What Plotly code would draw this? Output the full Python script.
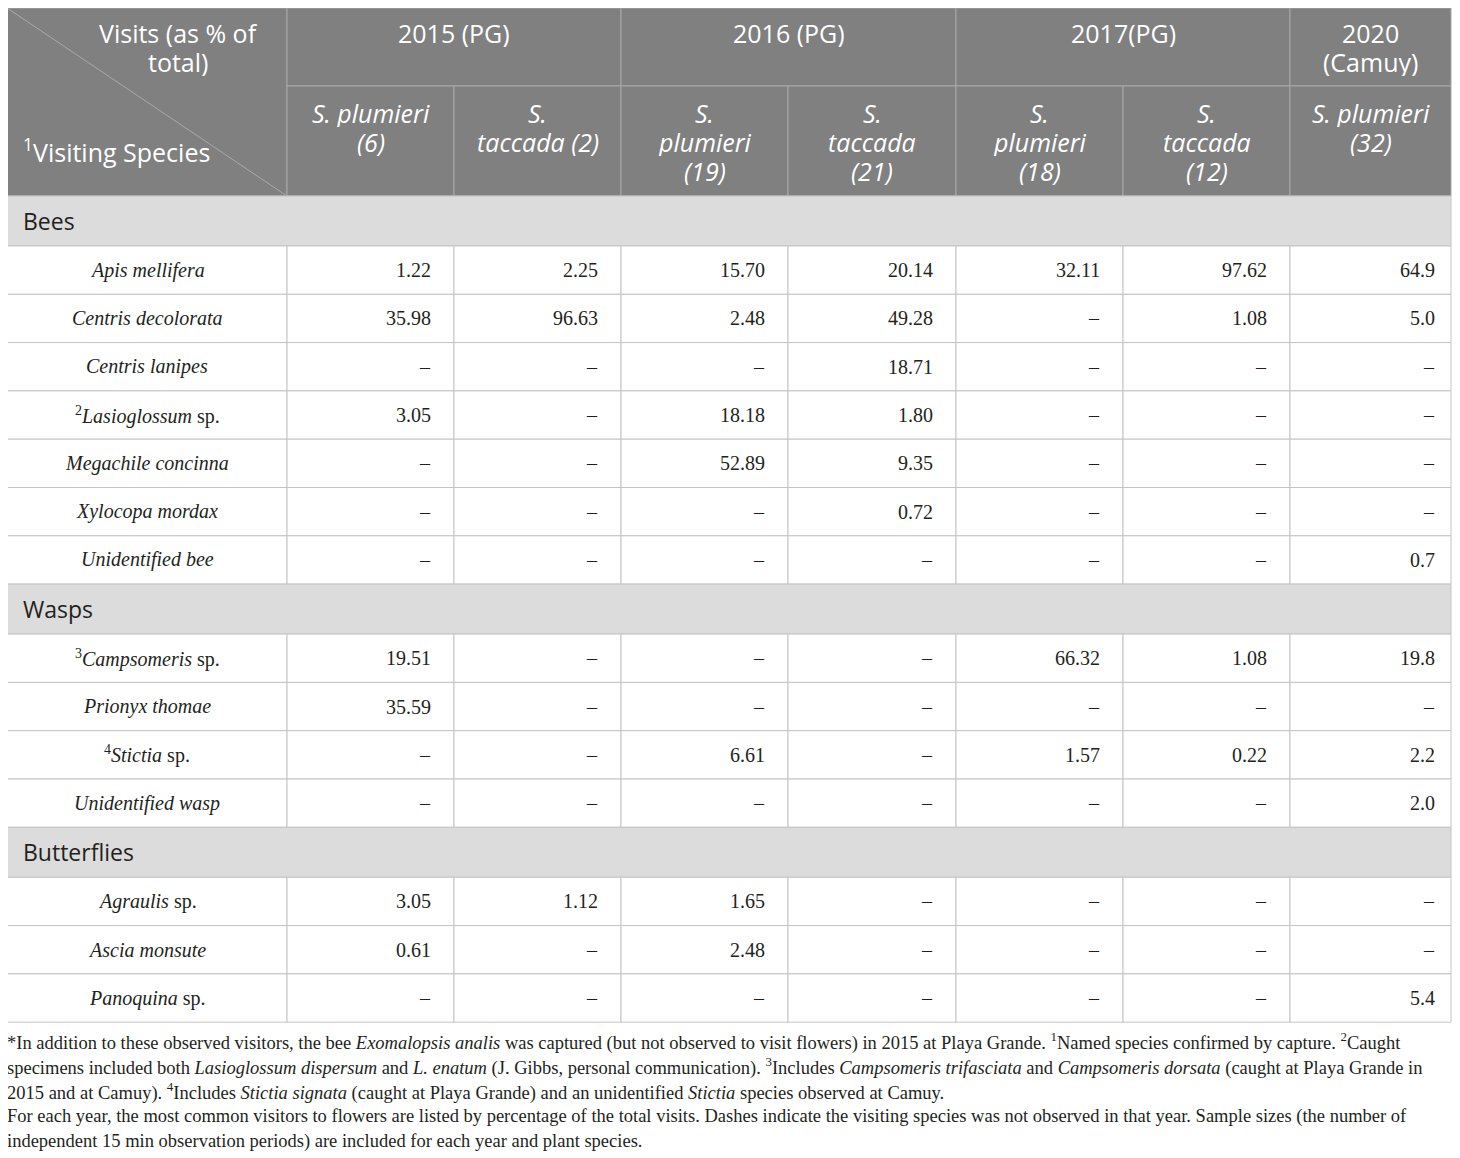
import plotly.graph_objects as go


# ---- table contents ----
groups = ["Bees", "Wasps", "Butterflies"]
group_sizes = [7, 4, 3]

species = ["Apis mellifera", "Centris decolorata", "Centris lanipes", "Lasioglossum", "Megachile concinna",
           "Xylocopa mordax", "Unidentified bee", "Campsomeris", "Prionyx thomae", "Stictia",
           "Unidentified wasp", "Agraulis", "Ascia monsute", "Panoquina"]
species_note = ["", "", "", "2", "", "", "", "3", "", "4", "", "", "", ""]
species_sp = [False, False, False, True, False, False, False, True, False, True, False, True, False, True]

years = ["2015 (PG)", "2016 (PG)", "2017(PG)", "2020<br>(Camuy)"]
year_span = [2, 2, 2, 1]
plant_heads = ["S. plumieri<br>(6)", "S.<br>taccada (2)", "S.<br>plumieri<br>(19)", "S.<br>taccada<br>(21)",
               "S.<br>plumieri<br>(18)", "S.<br>taccada<br>(12)", "S. plumieri<br>(32)"]

y2015_plumieri = [1.22, 35.98, None, 3.05, None, None, None, 19.51, 35.59, None, None, 3.05, 0.61, None]
y2015_taccada = [2.25, 96.63, None, None, None, None, None, None, None, None, None, 1.12, None, None]
y2016_plumieri = [15.70, 2.48, None, 18.18, 52.89, None, None, None, None, 6.61, None, 1.65, 2.48, None]
y2016_taccada = [20.14, 49.28, 18.71, 1.80, 9.35, 0.72, None, None, None, None, None, None, None, None]
y2017_plumieri = [32.11, None, None, None, None, None, None, 66.32, None, 1.57, None, None, None, None]
y2017_taccada = [97.62, 1.08, None, None, None, None, None, 1.08, None, 0.22, None, None, None, None]
y2020_plumieri = [64.9, 5.0, None, None, None, None, 0.7, 19.8, None, 2.2, 2.0, None, None, 5.4]
value_cols = [y2015_plumieri, y2015_taccada, y2016_plumieri, y2016_taccada,
              y2017_plumieri, y2017_taccada, y2020_plumieri]
decimals = [2, 2, 2, 2, 2, 2, 1]

footnote_lines = [
    "*In addition to these observed visitors, the bee <i>Exomalopsis analis</i> was captured (but not observed to visit flowers) in 2015 at Playa Grande. <sup>1</sup>Named species confirmed by capture. <sup>2</sup>Caught",
    "specimens included both <i>Lasioglossum dispersum</i> and <i>L. enatum</i> (J. Gibbs, personal communication). <sup>3</sup>Includes <i>Campsomeris trifasciata</i> and <i>Campsomeris dorsata</i> (caught at Playa Grande in",
    "2015 and at Camuy). <sup>4</sup>Includes <i>Stictia signata</i> (caught at Playa Grande) and an unidentified <i>Stictia</i> species observed at Camuy.",
    "For each year, the most common visitors to flowers are listed by percentage of the total visits. Dashes indicate the visiting species was not observed in that year. Sample sizes (the number of",
    "independent 15 min observation periods) are included for each year and plant species.",
]

# ---- look ----
W, H = 1460, 1158
PAGE = 8  # body margin of the html page
X0, Y0 = 7, 8
col_widths = [280, 167, 167, 167, 168, 167, 167, 161]
val_pad = [21, 21, 21, 21, 21, 21, 14]
head1_h, head2_h = 78, 110
group_h, row_h = 50, 48.3
head_line = 29
foot_gap, foot_line = 19, 25

HEAD_BG = "#808080"
GROUP_BG = "#dcdcdc"
GRID = "#c4c4c4"
HEAD_GRID = "#a8a8a8"
INK = "#231f20"
SANS = "Open Sans"
SERIF = "Liberation Serif"

col_x = [X0]
for w in col_widths:
    col_x.append(col_x[-1] + w)
x_right = col_x[-1]

shapes = []
notes = []


def rect(x0, y0, x1, y1, fill, line):
    shapes.append(dict(type="rect", xref="x", yref="y", x0=x0, y0=y0, x1=x1, y1=y1,
                       fillcolor=fill, line=dict(color=line, width=1), layer="below"))


def text(x, y, s, size, color=INK, family=SERIF, xanchor="center", yanchor="middle", align="center", **extra):
    notes.append(dict(x=x, y=y, xref="x", yref="y", text=s, showarrow=False,
                      xanchor=xanchor, yanchor=yanchor, align=align,
                      font=dict(size=size, color=color, family=family), **extra))


def lines(x, y, s, size, italic=False, **kw):
    for j, part in enumerate(s.split("<br>")):
        if italic:
            part = "<i>" + part + "</i>"
        text(x, y + j * head_line, part, size, "white", SANS, height=head_line - 1, **kw)


# header
h1 = Y0 + head1_h
h2 = h1 + head2_h
rect(col_x[0], Y0, col_x[1], h2, HEAD_BG, HEAD_GRID)
shapes.append(dict(type="line", xref="x", yref="y", x0=col_x[0], y0=Y0, x1=col_x[1], y1=h2,
                   line=dict(color=HEAD_GRID, width=1)))
lines(178, Y0 + 25, "Visits (as % of<br>total)", 25)
text(col_x[0] + 14, 150, "<sup>1</sup>Visiting Species", 25, "white", SANS, xanchor="left")

ci = 1
for yr, span in zip(years, year_span):
    rect(col_x[ci], Y0, col_x[ci + span], h1, HEAD_BG, HEAD_GRID)
    lines((col_x[ci] + col_x[ci + span]) / 2, Y0 + 25, yr, 25)
    ci += span
for i, ph in enumerate(plant_heads):
    rect(col_x[i + 1], h1, col_x[i + 2], h2, HEAD_BG, HEAD_GRID)
    lines((col_x[i + 1] + col_x[i + 2]) / 2, h1 + 27, ph, 25, italic=True)

# body
y = h2
k = 0
for g, n in zip(groups, group_sizes):
    rect(col_x[0], y, x_right, y + group_h, GROUP_BG, GRID)
    text(col_x[0] + 14, y + group_h / 2, g, 23, INK, SANS, xanchor="left")
    y += group_h
    for _ in range(n):
        for c in range(len(col_widths)):
            rect(col_x[c], y, col_x[c + 1], y + row_h, "white", GRID)
        name = "<i>" + species[k] + "</i>" + (" sp." if species_sp[k] else "")
        if species_note[k]:
            name = "<sup>" + species_note[k] + "</sup>" + name
        text((col_x[0] + col_x[1]) / 2, y + row_h / 2, name, 20)
        for c, col in enumerate(value_cols):
            v = col[k]
            s = "–" if v is None else f"{v:.{decimals[c]}f}"
            text(col_x[c + 2] - val_pad[c], y + row_h / 2, s, 20, xanchor="right")
        y += row_h
        k += 1

# footnotes (anchor kept just inside the axis range, or plotly hides them)
fy = y + foot_gap
for line in footnote_lines:
    text(PAGE + 0.5, fy, line, 18.5, xanchor="left", align="left", xshift=-3, borderpad=0)
    fy += foot_line

fig = go.Figure()
fig.update_layout(
    width=W - PAGE, height=H - PAGE,
    margin=dict(l=0, r=0, t=0, b=0),
    paper_bgcolor="white", plot_bgcolor="white",
    xaxis=dict(range=[PAGE, W], visible=False, fixedrange=True),
    yaxis=dict(range=[H, PAGE], visible=False, fixedrange=True),
    shapes=shapes,
    annotations=notes,
    showlegend=False,
)
fig.write_html("out.html")
